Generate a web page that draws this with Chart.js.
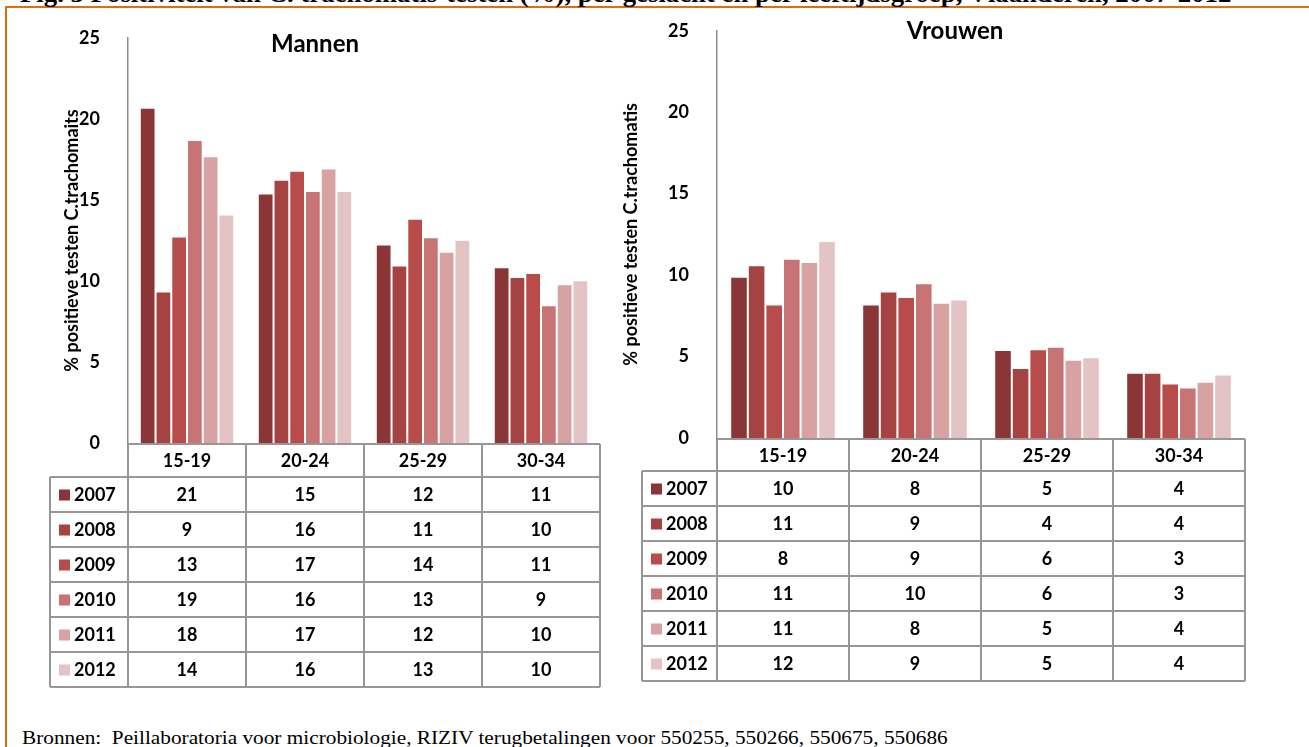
<!DOCTYPE html>
<html>
<head>
<meta charset="utf-8">
<script src="https://cdn.jsdelivr.net/npm/chart.js@4.4.0/dist/chart.umd.min.js"></script>
<style>
    body { margin: 0; background: #fff; width: 1309px; height: 747px; overflow: hidden; position: relative; font-family: Lato, sans-serif; }
    #frame { position: absolute; left: 5px; top: 6px; width: 1330px; height: 800px; border: 2px solid #e46c0a; box-sizing: border-box; }
    #kop { position: absolute; left: 20px; top: -19px; font: bold 26px/26px 'Liberation Serif', serif; white-space: nowrap; transform: scaleX(1.03); transform-origin: left top; }
    .wrap { position: absolute; top: 0; }
    .titel { position: absolute; font: bold 24px/29px Lato, sans-serif; transform: translateX(-50%); white-space: nowrap; }
    #bron { position: absolute; left: 22px; top: 727px; font: 19px 'Liberation Serif', serif; white-space: nowrap; transform: scaleX(1.12); transform-origin: left top; }
</style>
</head>
<body>
<div id="frame"></div>
<div id="kop">Fig. 3 Positiviteit van C. trachomatis-testen (%), per geslacht en per leeftijdsgroep, Vlaanderen, 2007-2012</div>
<div class="wrap" style="left:0; width:620px; height:700px;"><canvas id="mannenChart"></canvas></div>
<div class="wrap" style="left:600px; width:680px; height:700px;"><canvas id="vrouwenChart"></canvas></div>
<div class="titel" style="left:315px; top:28px;">Mannen</div>
<div class="titel" style="left:955px; top:15px;">Vrouwen</div>
<div id="bron">Bronnen:&nbsp; Peillaboratoria voor microbiologie, RIZIV terugbetalingen voor 550255, 550266, 550675, 550686</div>

<script>
// leeftijdsgroepen en jaren
var ageGroups = ['15-19', '20-24', '25-29', '30-34'];
var years = ['2007', '2008', '2009', '2010', '2011', '2012'];

var mannenPct = [
    [20.7, 15.4, 12.25, 10.85],
    [9.35, 16.25, 10.95, 10.25],
    [12.75, 16.8, 13.85, 10.5],
    [18.7, 15.55, 12.7, 8.5],
    [17.7, 16.95, 11.8, 9.8],
    [14.1, 15.55, 12.55, 10.05]
];
var vrouwenPct = [
    [9.9, 8.2, 5.4, 4.0],
    [10.6, 9.0, 4.3, 4.0],
    [8.2, 8.65, 5.45, 3.35],
    [11.0, 9.5, 5.6, 3.1],
    [10.8, 8.3, 4.8, 3.45],
    [12.1, 8.5, 4.95, 3.9]
];

// afgeronde waarden zoals in de gegevenstabel
var mannenTabel = [
    [21, 15, 12, 11],
    [9, 16, 11, 10],
    [13, 17, 14, 11],
    [19, 16, 13, 9],
    [18, 17, 12, 10],
    [14, 16, 13, 10]
];
var vrouwenTabel = [
    [10, 8, 5, 4],
    [11, 9, 4, 4],
    [8, 9, 6, 3],
    [11, 10, 6, 3],
    [11, 8, 5, 4],
    [12, 9, 5, 4]
];

var yearColors = ['#8b3636', '#a54343', '#b84c4a', '#c97474', '#d9a2a2', '#e4c3c5'];

var fontName = 'Lato, sans-serif';

// data table under the plot, aligned on the category scale
var tabelPlugin = {
    id: 'tabel',
    afterDraw: function (chart, args, opts) {
        var ctx = chart.ctx;
        var area = chart.chartArea;
        var xScale = chart.scales.x;
        var n = chart.data.labels.length;
        var step = (area.right - area.left) / n;
        var top = area.bottom + 1;
        var headBottom = top + opts.kopHoogte;
        var rowH = opts.rijHoogte;
        var rows = chart.data.datasets.length;
        var bottom = headBottom + rowH * rows;
        var left = opts.links;
        var i, j, y;

        ctx.save();
        ctx.strokeStyle = '#979797';
        ctx.lineWidth = 2;
        ctx.beginPath();
        // header row
        ctx.moveTo(area.left, top);
        ctx.lineTo(area.right, top);
        for (j = 0; j <= rows; j++) {
            y = headBottom + j * rowH;
            ctx.moveTo(left, y);
            ctx.lineTo(area.right, y);
        }
        for (i = 0; i <= n; i++) {
            ctx.moveTo(area.left + i * step, top);
            ctx.lineTo(area.left + i * step, bottom);
        }
        ctx.moveTo(left, headBottom);
        ctx.lineTo(left, bottom);
        ctx.stroke();

        ctx.fillStyle = '#000';
        ctx.font = 'bold ' + opts.fontSize + 'px ' + fontName;
        ctx.textAlign = 'center';
        ctx.textBaseline = 'middle';
        for (i = 0; i < n; i++) {
            ctx.fillText(chart.data.labels[i], xScale.getPixelForValue(i), (top + headBottom) / 2 + 1);
        }
        for (j = 0; j < rows; j++) {
            var ds = chart.data.datasets[j];
            var mid = headBottom + j * rowH + rowH / 2 + 1;
            ctx.fillStyle = ds.backgroundColor;
            ctx.fillRect(left + 9, mid - 6, 11, 11);
            ctx.fillStyle = '#000';
            ctx.textAlign = 'left';
            ctx.fillText(ds.label, left + 24, mid);
            ctx.textAlign = 'center';
            for (i = 0; i < n; i++) {
                ctx.fillText(opts.waarden[j][i], xScale.getPixelForValue(i), mid);
            }
        }
        ctx.restore();
    }
};

function makeChart(id, values, tabel, axisTitle, lay) {
    var datasets = years.map(function (yr, k) {
        return {
            label: yr,
            data: values[k],
            backgroundColor: yearColors[k],
            borderColor: 'rgba(255,255,255,0.45)',
            borderWidth: { top: 1, left: 1, right: 1, bottom: 0 },
            categoryPercentage: 0.8,
            barPercentage: 1.0
        };
    });

    new Chart(document.getElementById(id), {
        type: 'bar',
        data: { labels: ageGroups, datasets: datasets },
        plugins: [tabelPlugin],
        options: {
            responsive: true,
            maintainAspectRatio: false,
            animation: false,
            layout: {
                padding: { left: 0, top: lay.top, right: lay.right, bottom: lay.bottom }
            },
            scales: {
                x: { display: false },
                y: {
                    min: 0,
                    max: 25,
                    ticks: {
                        stepSize: 5,
                        padding: 20,
                        color: '#000',
                        font: { family: fontName, size: 18, weight: 'bold' }
                    },
                    grid: { display: false },
                    border: { display: true, color: '#8c8c8c', width: 1.5 },
                    title: {
                        display: true,
                        text: axisTitle,
                        color: '#000',
                        padding: { top: lay.titleOffset, bottom: 0 },
                        font: { family: fontName, size: 18, weight: 'bold' }
                    },
                    afterFit: function (scale) {
                        scale.width = lay.axisWidth;
                    }
                }
            },
            plugins: {
                legend: { display: false },
                tooltip: { enabled: false },
                tabel: {
                    links: lay.tableLeft,
                    kopHoogte: lay.kop,
                    rijHoogte: 35,
                    fontSize: 18,
                    waarden: tabel
                }
            }
        }
    });
}

makeChart('mannenChart', mannenPct, mannenTabel, '% positieve testen C.trachomaits',
    { top: 38, right: 20, bottom: 257, axisWidth: 128, titleOffset: 61, tableLeft: 50, kop: 33 });
makeChart('vrouwenChart', vrouwenPct, vrouwenTabel, '% positieve testen C.trachomatis',
    { top: 27, right: 35, bottom: 262, axisWidth: 117, titleOffset: 20, tableLeft: 42, kop: 32 });
</script>
</body>
</html>
